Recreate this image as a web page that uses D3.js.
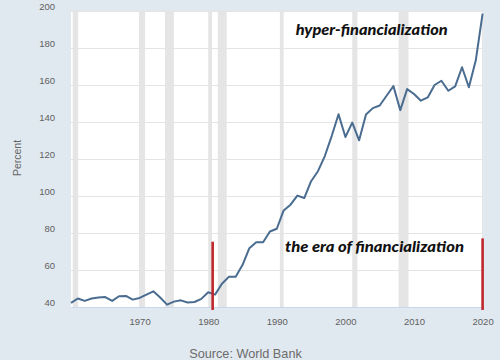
<!DOCTYPE html>
<html>
<head>
<meta charset="utf-8">
<script src="https://cdn.jsdelivr.net/npm/d3@7"></script>
<style>
  html, body { margin: 0; padding: 0; background: #e1e9f0; }
  svg { display: block; }
</style>
</head>
<body>
<svg id="chart" width="500" height="360"></svg>
<script>
// ---- data ----
const years = d3.range(1960, 2021);
const values = [
  42.2, 44.6, 43.3, 44.6, 45.1, 45.4, 43.3, 45.8, 46.0, 44.0,
  44.9, 46.7, 48.5, 45.1, 41.3, 42.9, 43.6, 42.4, 42.7, 44.4,
  48.0, 46.7, 52.6, 56.3, 56.3, 62.7, 71.8, 75.0, 75.0, 80.8,
  82.3, 92.2, 95.3, 100.2, 98.9, 108.0, 113.4, 121.6, 132.4, 144.2,
  131.9, 139.7, 130.1, 144.0, 147.5, 148.9, 154.2, 159.4, 146.4, 157.8,
  155.1, 151.5, 153.3, 160.0, 162.3, 156.9, 159.3, 169.6, 158.8, 173.2,
  198.6
];
const recessionStart = [1960.25, 1969.9, 1973.7, 1980.0, 1981.4, 1990.45, 2001.0, 2007.75, 2019.9];
const recessionEnd   = [1961.05, 1970.8, 1975.0, 1980.55, 1982.7, 1991.0, 2001.75, 2009.2, 2020.3];
const yTicks = [40, 60, 80, 100, 120, 140, 160, 180, 200];
const xTicks = [1970, 1980, 1990, 2000, 2010, 2020];
const markerYears = [1980.65, 2020];
const markerTops = [75.3, 77.1];
const markerBottom = 38.4;
const annotationTexts = ["hyper-financialization", "the era of financialization"];
const annotationYears = [1992.75, 1991.2];
const annotationValues = [187.0, 69.5];
const yTitle = "Percent";
const sourceText = "Source: World Bank";

// ---- layout ----
const svg = d3.select("#chart");
const plot = { left: 71, right: 482.6, top: 11, bottom: 307 };

const x = d3.scaleLinear().domain([1960, 2020]).range([plot.left, plot.right]);
const y = d3.scaleLinear().domain([40, 200]).range([plot.bottom, plot.top]);

// plot background
svg.append("rect")
  .attr("x", plot.left).attr("y", plot.top)
  .attr("width", plot.right - plot.left + 0.5)
  .attr("height", plot.bottom - plot.top)
  .attr("fill", "#ffffff");

// recession bands
svg.append("g").selectAll("rect")
  .data(recessionStart.map((s, i) => [s, recessionEnd[i]]))
  .join("rect")
  .attr("x", d => x(d[0]))
  .attr("y", plot.top)
  .attr("width", d => Math.min(x(d[1]), plot.right + 0.5) - x(d[0]))
  .attr("height", plot.bottom - plot.top)
  .attr("fill", "#e5e5e5");

// y axis with gridlines
const yAxis = d3.axisLeft(y).tickValues(yTicks).tickSize(0).tickPadding(16).tickFormat(d3.format("d"));
const gy = svg.append("g").attr("transform", `translate(${plot.left},0)`).call(yAxis);
gy.select(".domain").remove();
gy.selectAll(".tick text")
  .attr("y", -5)
  .attr("fill", "#606060")
  .style("font-family", "'Liberation Sans', Arial, sans-serif")
  .style("font-size", "9.5px");
gy.selectAll(".tick").filter(d => d > 40).append("line")
  .attr("x1", 0).attr("x2", plot.right - plot.left)
  .attr("stroke", "#e4e4e4").attr("stroke-width", 1);

// x axis
const xAxis = d3.axisBottom(x).tickValues(xTicks).tickSize(0).tickPadding(11).tickFormat(d3.format("d"));
const gx = svg.append("g").attr("transform", `translate(0,${plot.bottom})`).call(xAxis);
gx.select(".domain").attr("stroke", "#ccd6eb");
gx.selectAll(".tick text")
  .attr("fill", "#606060")
  .style("font-family", "'Liberation Sans', Arial, sans-serif")
  .style("font-size", "9.5px");

// data line
const line = d3.line().x((d, i) => x(years[i])).y(d => y(d));
svg.append("path")
  .datum(values)
  .attr("d", line)
  .attr("fill", "none")
  .attr("stroke", "#4a6c90")
  .attr("stroke-width", 2)
  .attr("stroke-linejoin", "round");

// red markers
svg.append("g").selectAll("line")
  .data(markerYears.map((yr, i) => [yr, markerTops[i]]))
  .join("line")
  .attr("x1", d => x(d[0])).attr("x2", d => x(d[0]))
  .attr("y1", d => y(d[1])).attr("y2", y(markerBottom))
  .attr("stroke", "#c0272d")
  .attr("stroke-width", 2.6);

// annotations
const annSizes = ["14.5px", "15.5px"];
const annWidths = [152, 179];
svg.append("g").selectAll("text")
  .data(annotationTexts)
  .join("text")
  .attr("x", (d, i) => x(annotationYears[i]))
  .attr("y", (d, i) => y(annotationValues[i]))
  .attr("textLength", (d, i) => annWidths[i])
  .attr("lengthAdjust", "spacingAndGlyphs")
  .attr("fill", "#111111")
  .style("font-family", "Lato, 'Open Sans', sans-serif")
  .style("font-weight", "900")
  .style("font-style", "italic")
  .style("font-size", (d, i) => annSizes[i])
  .text(d => d);

// y title
svg.append("text")
  .attr("transform", `translate(21,158) rotate(-90)`)
  .attr("text-anchor", "middle")
  .attr("fill", "#666666")
  .style("font-family", "'Liberation Sans', Arial, sans-serif")
  .style("font-size", "10.5px")
  .text(yTitle);

// source
svg.append("text")
  .attr("x", 245.5).attr("y", 357.5)
  .attr("text-anchor", "middle")
  .attr("fill", "#6b6b6b")
  .style("font-family", "'Liberation Sans', Arial, sans-serif")
  .style("font-size", "12.7px")
  .text(sourceText);
</script>
</body>
</html>
